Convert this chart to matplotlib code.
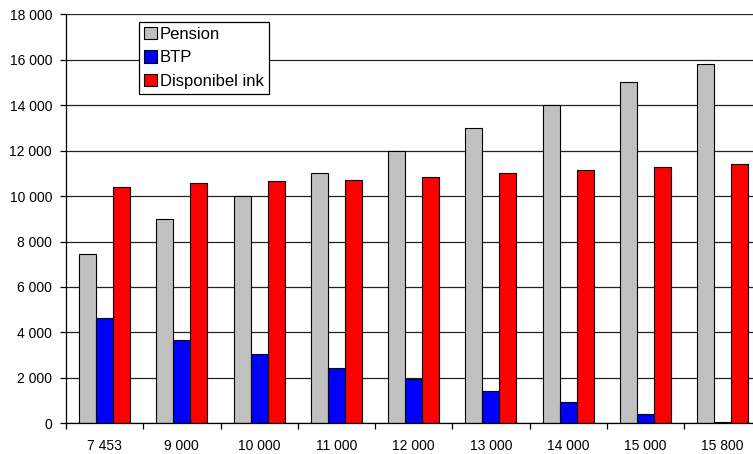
import matplotlib
matplotlib.use("Agg")
import matplotlib.pyplot as plt
import numpy as np
from matplotlib.ticker import FixedLocator, NullFormatter

plt.rcParams['font.family'] = ['Liberation Sans', 'DejaVu Sans']

categories = ["7 453", "9 000", "10 000", "11 000", "12 000", "13 000", "14 000", "15 000", "15 800"]
pension = [7453, 9000, 10000, 11000, 12000, 13000, 14000, 15000, 15800]
btp = [4620, 3650, 3040, 2450, 1940, 1440, 940, 425, 40]
disponibel = [10390, 10580, 10650, 10710, 10850, 11000, 11140, 11280, 11400]
series_names = ["Pension", "BTP", "Disponibel ink"]
y_ticks = [0, 2000, 4000, 6000, 8000, 10000, 12000, 14000, 16000, 18000]
y_tick_labels = ["0", "2 000", "4 000", "6 000", "8 000", "10 000", "12 000", "14 000", "16 000", "18 000"]

fig = plt.figure(figsize=(7.53, 4.54), dpi=100)
ax = fig.add_axes([66/753, 30.7/454, (761.25-66)/753, (423.3-14.3)/454])

x = np.arange(len(categories))
w = 0.22
colors = ["#C0C0C0", "#0000FF", "#FF0000"]
for i, (vals, name, c) in enumerate(zip([pension, btp, disponibel], series_names, colors)):
    ax.bar(x + (i - 1) * w, vals, width=w, color=c, edgecolor="black", linewidth=0.8,
           label=name, zorder=3)

ax.set_xlim(-0.5, len(categories) - 0.5)
ax.set_ylim(0, 18000)
ax.set_yticks(y_ticks)
ax.set_yticklabels(y_tick_labels, fontsize=10)
ax.yaxis.grid(True, color="#222222", linewidth=0.9, zorder=0)
ax.set_axisbelow(True)

ax.set_xticks(x)
ax.set_xticklabels(categories, fontsize=10)
ax.xaxis.set_minor_locator(FixedLocator(np.arange(-0.5, len(categories), 1.0)))
ax.xaxis.set_minor_formatter(NullFormatter())
ax.tick_params(axis="x", which="major", length=0, pad=11)
ax.tick_params(axis="x", which="minor", length=4, width=0.9, color="black")
ax.tick_params(axis="y", length=4, width=0.9, color="black", pad=6)

for s in ["top", "right"]:
    ax.spines[s].set_visible(False)
for s in ["left", "bottom"]:
    ax.spines[s].set_color("black")
    ax.spines[s].set_linewidth(0.9)
    ax.spines[s].set_zorder(4)

leg = ax.legend(loc="upper left", bbox_to_anchor=(139/753, 1 - 22/454),
                bbox_transform=fig.transFigure,
                fontsize=12, frameon=True, fancybox=False, borderaxespad=0,
                handlelength=0.75, handleheight=0.75, handletextpad=0.2,
                labelspacing=0.5, borderpad=0.3)
leg.get_frame().set_edgecolor("black")
leg.get_frame().set_linewidth(0.9)
leg.get_frame().set_alpha(1)
leg.set_zorder(5)

fig.savefig("out.png", dpi=100)
